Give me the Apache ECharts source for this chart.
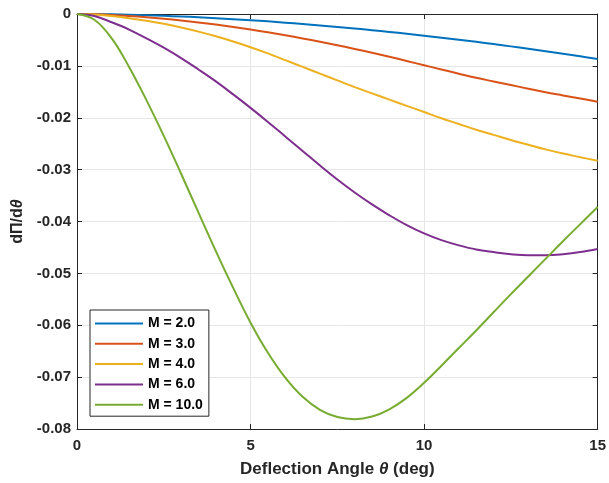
<!DOCTYPE html>
<html>
<head>
<meta charset="utf-8">
<script src="https://cdn.jsdelivr.net/npm/echarts@6/dist/echarts.min.js"></script>
<style>html,body{margin:0;padding:0;background:#fff}#c{width:609px;height:483px}</style>
</head>
<body>
<div id="c"></div>
<script>
var theta = [0,0.5,1,1.5,2,2.5,3,3.5,4,4.5,5,5.5,6,6.5,7,7.5,8,8.5,9,9.5,10,10.5,11,11.5,12,12.5,13,13.5,14,14.5,15];
var seriesNames = ['M = 2.0','M = 3.0','M = 4.0','M = 6.0','M = 10.0'];
var m2 = [0,-0.00002,-0.00007,-0.00014,-0.00023,-0.00035,-0.00048,-0.00063,-0.0008,-0.00099,-0.0012,-0.00142,-0.00167,-0.00192,-0.0022,-0.00249,-0.0028,-0.00312,-0.00346,-0.00381,-0.00418,-0.00456,-0.00496,-0.00537,-0.0058,-0.00624,-0.0067,-0.00717,-0.00766,-0.00816,-0.00867];
var m3 = [0,-0.00006,-0.00019,-0.00038,-0.00062,-0.00091,-0.00125,-0.00163,-0.00204,-0.0025,-0.003,-0.00353,-0.0041,-0.00471,-0.00535,-0.00602,-0.00673,-0.00747,-0.00824,-0.00905,-0.00988,-0.0107,-0.0115,-0.0123,-0.0130,-0.0137,-0.0144,-0.0151,-0.0157,-0.0163,-0.0169];
var m4 = [0,-0.0001,-0.0004,-0.0008,-0.0013,-0.0019,-0.0026,-0.0034,-0.0043,-0.0053,-0.0064,-0.0076,-0.0089,-0.0102,-0.0115,-0.0128,-0.0141,-0.0153,-0.0165,-0.0177,-0.0189,-0.0201,-0.0212,-0.0223,-0.0233,-0.0243,-0.0252,-0.0261,-0.0269,-0.0276,-0.0283];
var m6 = [0,-0.0004,-0.0016,-0.003,-0.0047,-0.0065,-0.0085,-0.0107,-0.013,-0.0155,-0.0181,-0.0208,-0.0236,-0.0264,-0.0292,-0.0319,-0.0344,-0.0367,-0.0388,-0.0407,-0.0423,-0.0436,-0.0446,-0.0454,-0.0459,-0.0463,-0.0465,-0.0465,-0.0463,-0.0459,-0.0453];
var m10 = [0,-0.0011,-0.0047,-0.0102,-0.0166,-0.0235,-0.0308,-0.0383,-0.0457,-0.0528,-0.0595,-0.0653,-0.0701,-0.0738,-0.0763,-0.0777,-0.0781,-0.0776,-0.0762,-0.074,-0.0711,-0.0678,-0.0644,-0.061,-0.0575,-0.054,-0.0506,-0.0472,-0.0438,-0.0405,-0.0372];
var colors = ['#0072BD','#D95319','#EDB120','#7E2F8E','#77AC30'];

var all = [m2,m3,m4,m6,m10];
var axisColor = '#262626';
var font = 'Liberation Sans, Arial, Helvetica, sans-serif';
var chart = echarts.init(document.getElementById('c'));
var series = all.map(function(arr,i){
  return {
    name: seriesNames[i], type:'line', symbol:'none', smooth:0.4,
    xAxisIndex:0, yAxisIndex:0,
    data: theta.map(function(t,j){return [t,arr[j]];}),
    lineStyle:{width:2,color:colors[i]}, itemStyle:{color:colors[i]},
    emphasis:{disabled:true}
  };
});
function yfmt(v){ return Math.abs(v)<1e-9 ? '0' : v.toFixed(2); }
chart.setOption({
  animation:false,
  backgroundColor:'#fff',
  textStyle:{fontFamily:font},
  grid:{left:77,right:8,top:14,bottom:53,containLabel:false},
  legend:{
    left:90, top:310, orient:'vertical',
    icon:'rect', itemWidth:48, itemHeight:2, itemGap:5.3,
    padding:[6,6,4,5],
    borderColor:axisColor, borderWidth:1, backgroundColor:'#fff',
    textStyle:{fontFamily:font,fontWeight:'bold',fontSize:14,lineHeight:15,color:'#000'},
    data: seriesNames
  },
  xAxis:[{
    type:'value', min:0, max:15, interval:5,
    name:'{b|Deflection Angle }{i|θ}{b| (deg)}',
    nameLocation:'middle', nameGap:32,
    nameTextStyle:{rich:{b:{fontFamily:font,fontWeight:'bold',fontSize:17,color:'#262626'},i:{fontFamily:font,fontWeight:'bold',fontStyle:'italic',fontSize:17,color:'#262626'}}},
    axisLine:{show:true,onZero:false,lineStyle:{color:axisColor,width:1}},
    axisTick:{show:true,inside:true,length:5,lineStyle:{color:axisColor}},
    axisLabel:{fontFamily:font,fontWeight:'bold',fontSize:15,color:'#262626',margin:9},
    splitLine:{show:true,lineStyle:{color:'#e6e6e6',width:1}}
  },{
    type:'value', min:0, max:15, interval:5, position:'top',
    axisLine:{show:true,onZero:false,lineStyle:{color:axisColor,width:1}},
    axisTick:{show:true,inside:true,length:5,lineStyle:{color:axisColor}},
    axisLabel:{show:false}, splitLine:{show:false}
  }],
  yAxis:[{
    type:'value', min:-0.08, max:0, interval:0.01,
    name:'{b|dΠ/d}{i|θ}',
    nameLocation:'middle', nameGap:44, nameRotate:90,
    nameTextStyle:{rich:{b:{fontFamily:font,fontWeight:'bold',fontSize:16,color:'#262626'},i:{fontFamily:font,fontWeight:'bold',fontStyle:'italic',fontSize:16,color:'#262626'}}},
    axisLine:{show:true,onZero:false,lineStyle:{color:axisColor,width:1}},
    axisTick:{show:true,inside:true,length:5,lineStyle:{color:axisColor}},
    axisLabel:{fontFamily:font,fontWeight:'bold',fontSize:15,color:'#262626',margin:6,formatter:yfmt},
    splitLine:{show:true,lineStyle:{color:'#e6e6e6',width:1}}
  },{
    type:'value', min:-0.08, max:0, interval:0.01, position:'right',
    axisLine:{show:true,onZero:false,lineStyle:{color:axisColor,width:1}},
    axisTick:{show:true,inside:true,length:5,lineStyle:{color:axisColor}},
    axisLabel:{show:false}, splitLine:{show:false}
  }],
  series: series
});
</script>
</body>
</html>
